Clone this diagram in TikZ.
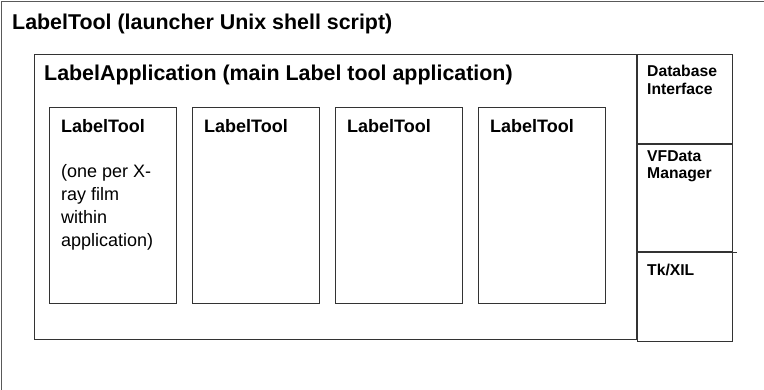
\documentclass[tikz,border=0pt]{standalone}
\usepackage{fontspec}
\setmainfont{Liberation Sans}
\usetikzlibrary{positioning}
% font sizes of the three kinds of text
\newcommand{\headfont}{\fontsize{21.4}{25}\selectfont\bfseries}
\newcommand{\toolfont}{\fontsize{18}{23}\selectfont}
\newcommand{\sidefont}{\fontsize{15.7}{17.5}\selectfont}
\tikzset{
	box/.style = {rectangle, draw=black!80, line width=1pt, inner sep=0pt, anchor=north west},
	head/.style = {font=\headfont, inner sep=0pt},
	tooltext/.style = {font=\toolfont, inner sep=0pt, align=left},
	sidetext/.style = {font=\sidefont\bfseries, inner sep=0pt, align=left},
}
\begin{document}
\begin{tikzpicture}[x=1pt, y=-1pt]
	\useasboundingbox (0,0) rectangle (764,389);
	\clip (0,0) rectangle (764,389);
	% launcher script, reaching past the page
	\node (Launcher) [box, draw=black!65, line width=1.4pt, minimum width=800pt, minimum height=420pt] at (1,1) {};
	\node (LauncherText) [head, below right = 13pt and 11pt of Launcher.north west] {LabelTool (launcher Unix shell script)};
	% application with its tools
	\node (App) [box, minimum width=602pt, minimum height=285pt] at (34,54) {};
	\node (AppText) [head, below right = 11pt and 10pt of App.north west] {LabelApplication (main Label tool application)};
	\foreach \i in {1,...,4} {
		\node (Tool\i) [box, minimum width=127pt, minimum height=196pt] at ({49+143*(\i-1)},107) {};
		\node (ToolText\i) [tooltext, font=\toolfont\bfseries, below right = 12pt and 12pt of Tool\i.north west] {LabelTool};
	}
	\node (ToolNote) [tooltext, below = 32pt of ToolText1.south west, anchor=north west] {(one per X-\\ray film\\within\\application)};
	% support libraries down the side
	\node (Db) [box, minimum width=95pt, minimum height=89pt] at (App.north east) {};
	\node (VF) [box, anchor=north, minimum width=95pt, minimum height=107pt] at (Db.south) {};
	\node (Tk) [box, anchor=north, minimum width=95pt, minimum height=89pt] at (VF.south) {};
	\draw [draw=black!80, line width=1pt] (VF.south east) -- ++(4,0);
	\node (DbText) [sidetext, below right = 11pt and 10pt of Db.north west] {Database\\Interface};
	\node (VFText) [sidetext, below right = 6pt and 10pt of VF.north west] {VFData\\Manager};
	\node (TkText) [sidetext, below right = 12pt and 10pt of Tk.north west] {Tk/XIL};
\end{tikzpicture}
\end{document}
